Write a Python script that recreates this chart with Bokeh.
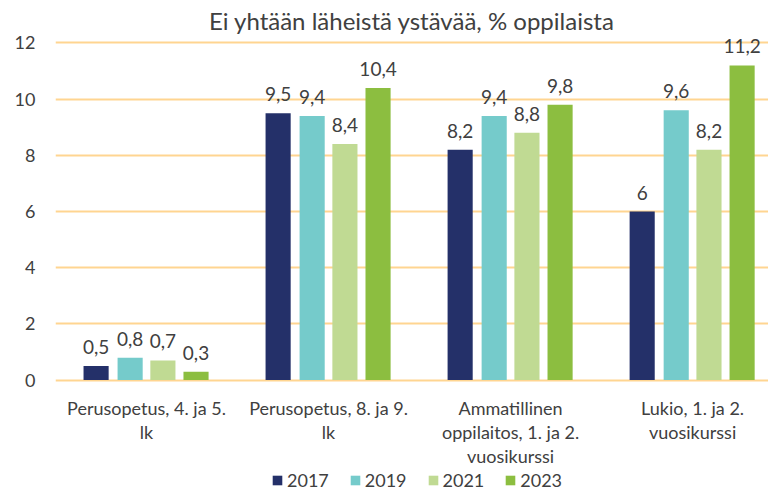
from bokeh.plotting import figure
from bokeh.models import ColumnDataSource, Range1d, FixedTicker, LabelSet
from bokeh.core.properties import value
from bokeh.transform import dodge
from bokeh.embed import file_html
from bokeh.resources import INLINE

categories = ["Perusopetus, 4. ja 5.\nlk", "Perusopetus, 8. ja 9.\nlk",
              "Ammatillinen\noppilaitos, 1. ja 2.\nvuosikurssi", "Lukio, 1. ja 2.\nvuosikurssi"]
years = ["2017", "2019", "2021", "2023"]
v2017 = [0.5, 9.5, 8.2, 6.0]
v2019 = [0.8, 9.4, 9.4, 9.6]
v2021 = [0.7, 8.4, 8.8, 8.2]
v2023 = [0.3, 10.4, 9.8, 11.2]
colors = ["#243069", "#75CBCB", "#C0DA93", "#8CBE40"]
y_ticks = [0, 2, 4, 6, 8, 10, 12]

FONT = "Lato"
TXT = "#404040"

xs = [i + 0.5 for i in range(len(categories))]

def fmt(v):
    return ("%g" % v).replace(".", ",")

src = ColumnDataSource(dict(
    x=xs,
    v2017=v2017, v2019=v2019, v2021=v2021, v2023=v2023,
    l2017=[fmt(v) for v in v2017], l2019=[fmt(v) for v in v2019],
    l2021=[fmt(v) for v in v2021], l2023=[fmt(v) for v in v2023],
))

p = figure(frame_width=713, frame_height=458,
           x_range=Range1d(0, 3.917), y_range=Range1d(-4.0, 12.3),
           output_backend="svg", toolbar_location=None,
           title="Ei yhtään läheistä ystävää, % oppilaista",
           min_border_left=55, min_border_right=0, min_border_top=34, min_border_bottom=0)

p.title.text_font = FONT
p.title.text_font_size = "24px"
p.title.text_font_style = "normal"
p.title.text_color = TXT
p.title.align = "center"
p.title.standoff = 0

offsets = [-0.277, -0.09, 0.09, 0.272]
bw = 0.138
for yr, col, off in zip(years, colors, offsets):
    xd = dodge("x", off, range=p.x_range)
    p.vbar(x=xd, top="v" + yr, width=bw, bottom=0, source=src,
           fill_color=col, line_color=None, legend_label=yr)
    p.add_layout(LabelSet(x=xd, y="v" + yr, text="l" + yr, source=src,
                          text_align="center", text_baseline="bottom", y_offset=12,
                          text_font=value(FONT), text_font_size=value("19px"),
                          text_color=TXT))

# category labels under the groups, one centred line at a time
split = [c.split("\n") for c in categories]
for k in range(max(len(s) for s in split)):
    lx = [x for x, s in zip(xs, split) if len(s) > k]
    lt = [s[k] for s in split if len(s) > k]
    lsrc = ColumnDataSource(dict(x=lx, y=[0] * len(lx), t=lt))
    p.add_layout(LabelSet(x="x", y="y", text="t", source=lsrc,
                          text_align="center", text_baseline="middle",
                          y_offset=-(28 + 24 * k),
                          text_font=value(FONT), text_font_size=value("18px"),
                          text_color=TXT))

p.xgrid.grid_line_color = None
p.ygrid.ticker = FixedTicker(ticks=y_ticks)
p.ygrid.grid_line_color = "#FFD591"
p.ygrid.grid_line_width = 2

p.xaxis.visible = False
p.yaxis.ticker = FixedTicker(ticks=y_ticks)
ax = p.yaxis[0]
ax.axis_line_color = None
ax.major_tick_line_color = None
ax.minor_tick_line_color = None
ax.major_tick_out = 0
ax.major_tick_in = 0
ax.minor_tick_out = 0
ax.minor_tick_in = 0
ax.major_label_text_font = FONT
ax.major_label_text_color = TXT
ax.major_label_text_font_size = "18px"
ax.major_label_standoff = 20
p.outline_line_color = None

lg = p.legend[0]
lg.orientation = "horizontal"
lg.location = (216, 1)
lg.glyph_width = 12
lg.glyph_height = 12
lg.label_height = 18
lg.label_text_font = FONT
lg.label_text_font_size = "18px"
lg.label_text_color = TXT
lg.label_standoff = 4
lg.spacing = 20
lg.padding = 0
lg.margin = 0
lg.border_line_color = None
lg.background_fill_alpha = 0

open("out.html", "w").write(file_html(p, INLINE))
